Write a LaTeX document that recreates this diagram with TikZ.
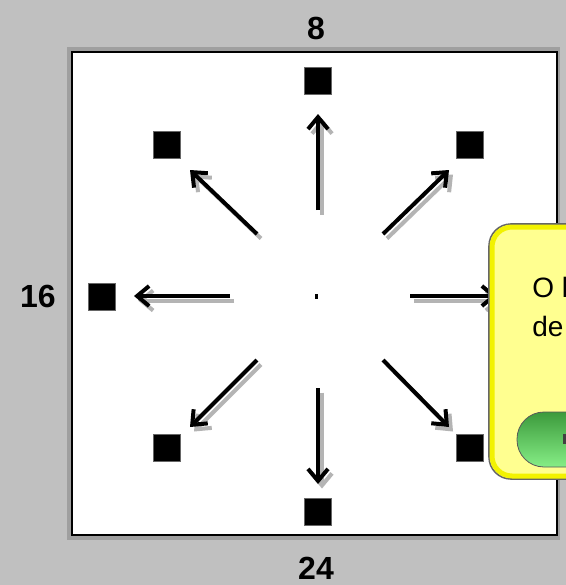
\documentclass[tikz,border=0pt]{standalone}
\usepackage{fontspec}
\setmainfont{Liberation Sans}
\usetikzlibrary{arrows.meta}
\definecolor{bggray}{HTML}{C0C0C0}
\definecolor{shadowgray}{HTML}{B4B4B4}
\definecolor{calloutfill}{HTML}{FFFF90}
\definecolor{calloutedge}{HTML}{F2F200}
\definecolor{btndark}{HTML}{3C9A3C}
\definecolor{btnlight}{HTML}{86EE86}
\tikzset{
  mark square/.style={fill=black, draw=black!60, line width=0.8, minimum size=27*0.75pt, inner sep=0pt, outer sep=0pt},
  dirarrow/.style={line width=4*0.75pt, -{Straight Barb[length=9pt,width=15pt,line width=4*0.75pt]}},
  dirshadow/.style={dirarrow, draw=shadowgray},
  sidelabel/.style={font=\bfseries\fontsize{24}{30}\selectfont, text=black, inner sep=0pt},
  callouttext/.style={font=\fontsize{21}{25}\selectfont, text=black, inner sep=0pt, anchor=base west},
}
\begin{document}
\begin{tikzpicture}[x=0.75pt,y=-0.75pt]
\useasboundingbox (0,0) rectangle (566,585);
\fill[bggray] (0,0) rectangle (566,585);
% board with shadow
\fill[gray!75] (67,47) rectangle (560,540);
\fill[white] (72,52) rectangle (557,535);
\draw[black, line width=2.2*0.75pt] (72,52) rectangle (557,535);
% labels
\node[sidelabel] (l8) at (316,28) {8};
\node[sidelabel] (l16) at (38,296) {16};
\node[sidelabel] (l24) at (316,568) {24};
% center
\coordinate (c) at (316,296);
\fill[black] (315,294) rectangle (317.5,298.5);
% squares
\node[mark square] (sqN) at (318,81) {};
\node[mark square] (sqNE) at (470,145) {};
\node[mark square] (sqSE) at (470,448) {};
\node[mark square] (sqS) at (318,512) {};
\node[mark square] (sqSW) at (167,448) {};
\node[mark square] (sqW) at (102,297) {};
\node[mark square] (sqNW) at (167,145) {};
% arrow tails and tips
\coordinate (tN) at (318,210); \coordinate (hN) at (318,114);
\coordinate (tNE) at (383,234); \coordinate (hNE) at (449,170);
\coordinate (tE) at (410,296); \coordinate (hE) at (497,296);
\coordinate (tSE) at (383,360); \coordinate (hSE) at (449,427);
\coordinate (tS) at (318,388); \coordinate (hS) at (318,484);
\coordinate (tSW) at (257,360); \coordinate (hSW) at (190,427);
\coordinate (tW) at (230,296); \coordinate (hW) at (134,296);
\coordinate (tNW) at (257,234); \coordinate (hNW) at (190,170);
% shadows
\foreach \d in {N,NE,E,SE,S,SW,W,NW}{
  \draw[dirshadow, transform canvas={shift={(4*0.75pt,-4.5*0.75pt)}}] (t\d) -- (h\d);
}
% arrows
\foreach \d in {N,NE,E,SE,S,SW,W,NW}{
  \draw[dirarrow] (t\d) -- (h\d);
}
% callout
\draw[gray!80!black, line width=1.2, rounded corners=22*0.75pt] (489,224) rectangle (620,479);
\draw[calloutedge, fill=calloutfill, line width=5*0.75pt, rounded corners=20*0.75pt] (492,227) rectangle (620,476);
\node[callouttext] (ct1) at (532,297) {O l};
\node[callouttext] (ct2) at (532,336) {de};
% button
\shade[top color=btndark, bottom color=btnlight, draw=gray!70!black, line width=0.6, rounded corners=27*0.75pt] (517,412) rectangle (640,467);
\fill[black!75] (563,434) rectangle (568,444);
\end{tikzpicture}
\end{document}
